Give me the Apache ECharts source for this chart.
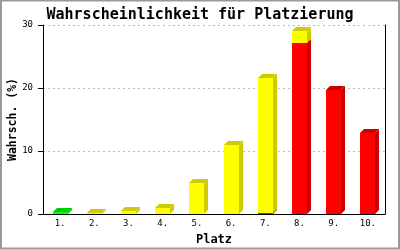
<!DOCTYPE html>
<html>
<head>
<meta charset="utf-8">
<script src="https://cdn.jsdelivr.net/npm/echarts@6/dist/echarts.min.js"></script>
<style>html,body{margin:0;padding:0;background:#fff}#c{width:400px;height:250px}</style>
</head>
<body>
<div id="c"></div>
<script>
var categories = ['1.', '2.', '3.', '4.', '5.', '6.', '7.', '8.', '9.', '10.'];
var redValues    = [0, 0, 0, 0, 0, 0, 0.2, 27.2, 19.7, 12.9];
var yellowValues = [0, 0.2, 0.4, 1.0, 4.9, 11.0, 21.4, 1.8, 0, 0];
var greenValues  = [0.3, 0, 0, 0, 0, 0, 0, 0, 0, 0];
var yTicks = [0, 10, 20, 30];

var seriesDefs = [
  {name: 'rot', values: redValues, front: '#ff0000', dark: '#cc0000'},
  {name: 'gelb', values: yellowValues, front: '#ffff00', dark: '#cccc00'},
  {name: 'grün', values: greenValues, front: '#00ff00', dark: '#00cc00'}
];

var FONT = 'DejaVu Sans Mono';
var base = categories.map(function () { return 0; });
var series = seriesDefs.map(function (def) {
  var data = [];
  def.values.forEach(function (v, i) {
    if (v > 0) {
      data.push([i, base[i], base[i] + v]);
      base[i] += v;
    }
  });
  return {
    type: 'custom',
    name: def.name,
    data: data,
    encode: {x: 0, y: [1, 2]},
    renderItem: function (params, api) {
      var p0 = api.coord([api.value(0), api.value(1)]);
      var p1 = api.coord([api.value(0), api.value(2)]);
      var cx = p0[0];
      var x0 = Math.round(cx - 7.5), x1 = x0 + 15;
      var yb = Math.round(p0[1]), yt = Math.round(p1[1]);
      var d = 4;
      return {
        type: 'group',
        children: [
          {type: 'polygon', shape: {points: [[x1, yb], [x1, yt], [x1 + d, yt - d], [x1 + d, yb - d]]}, style: {fill: def.dark}},
          {type: 'polygon', shape: {points: [[x0, yt], [x1, yt], [x1 + d, yt - d], [x0 + d, yt - d]]}, style: {fill: def.dark}},
          {type: 'rect', shape: {x: x0, y: yt, width: 15, height: yb - yt}, style: {fill: def.front}}
        ]
      };
    }
  };
});

var chart = echarts.init(document.getElementById('c'), null, {renderer: 'canvas'});
chart.setOption({
  animation: false,
  backgroundColor: '#fff',
  title: {
    text: 'Wahrscheinlichkeit für Platzierung',
    left: 'center', top: 3,
    textStyle: {fontFamily: FONT, fontWeight: 'bold', fontSize: 15, color: '#000'}
  },
  grid: {left: 43, right: 15, top: 25, bottom: 36, containLabel: false, outerBoundsMode: 'none'},
  xAxis: {
    type: 'category',
    data: categories,
    name: 'Platz',
    nameLocation: 'middle',
    nameGap: 20,
    nameMoveOverlap: false,
    nameTextStyle: {fontFamily: FONT, fontWeight: 'bold', fontSize: 12, color: '#000'},
    axisLine: {lineStyle: {color: '#000', width: 1}},
    axisTick: {show: false},
    axisLabel: {fontFamily: FONT, fontSize: 9, color: '#000', margin: 5},
    splitLine: {show: false}
  },
  yAxis: [{
    type: 'value',
    min: yTicks[0], max: yTicks[yTicks.length - 1], interval: 10,
    name: 'Wahrsch. (%)',
    nameLocation: 'middle',
    nameRotate: 90,
    nameGap: 24,
    nameMoveOverlap: false,
    nameTextStyle: {fontFamily: FONT, fontWeight: 'bold', fontSize: 11.5, color: '#000'},
    axisLine: {show: true, lineStyle: {color: '#000', width: 1}},
    axisTick: {show: true, length: 5, lineStyle: {color: '#000'}},
    axisLabel: {fontFamily: FONT, fontSize: 9, color: '#000', margin: 10},
    splitLine: {show: true, lineStyle: {color: '#bbbbbb', type: [2, 3], width: 1}}
  }, {
    type: 'value',
    position: 'right',
    min: yTicks[0], max: yTicks[yTicks.length - 1], interval: 10,
    axisLine: {show: true, lineStyle: {color: '#000', width: 1}},
    axisTick: {show: false},
    axisLabel: {show: false},
    splitLine: {show: false}
  }],
  graphic: [{
    type: 'rect', silent: true, z: 100,
    shape: {x: 1, y: 0.5, width: 398, height: 248},
    style: {fill: 'none', stroke: '#999999', lineWidth: 2}
  }],
  series: series
});
</script>
</body>
</html>
